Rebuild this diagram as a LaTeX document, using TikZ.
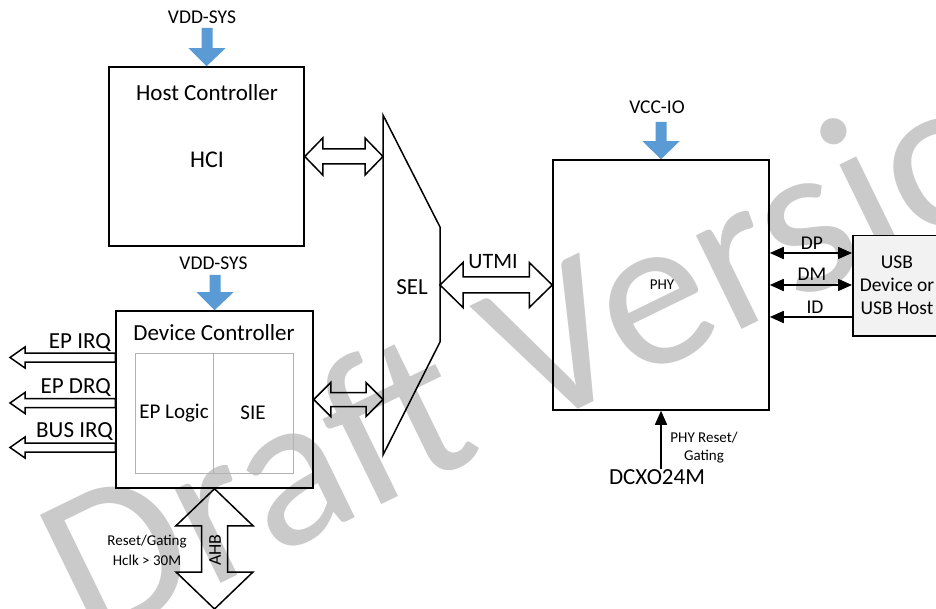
\documentclass[tikz,border=0pt]{standalone}
\usepackage{fontspec}
\setmainfont{Carlito}
\usetikzlibrary{arrows.meta,calc}
\definecolor{pwr}{RGB}{91,155,213}
\definecolor{wmgray}{RGB}{202,202,202}
\definecolor{usbfill}{RGB}{242,242,242}
\newcommand{\fsz}[1]{\fontsize{#1pt}{#1pt}\selectfont}
\begin{document}
\begin{tikzpicture}[x=1pt,y=-1pt,
  box/.style={draw, line width=1.5pt, inner sep=0pt},
  cell/.style={draw=gray!60, line width=0.8pt, inner sep=0pt, font=\fsz{21}},
  big/.style={inner sep=0pt, font=\fsz{23}},
  mid/.style={inner sep=0pt, font=\fsz{19.5}},
  small/.style={inner sep=0pt, font=\fsz{15}},
  hollow/.style={draw, line width=1.5pt, line join=miter},
  hdbl/.style n args={3}{hollow, to path={let \p1=(\tikztostart), \p2=(\tikztotarget) in
     (\x1,\y1) -- (\x1+#3,\y1+#2) -- (\x1+#3,\y1+#1) -- (\x2-#3,\y2+#1) -- (\x2-#3,\y2+#2) -- (\x2,\y2)
     -- (\x2-#3,\y2-#2) -- (\x2-#3,\y2-#1) -- (\x1+#3,\y1-#1) -- (\x1+#3,\y1-#2) -- cycle}},
  hsgl/.style n args={3}{hollow, to path={let \p1=(\tikztostart), \p2=(\tikztotarget) in
     (\x1,\y1) -- (\x1+#3,\y1+#2) -- (\x1+#3,\y1+#1) -- (\x2,\y2+#1) -- (\x2,\y2-#1)
     -- (\x1+#3,\y1-#1) -- (\x1+#3,\y1-#2) -- cycle}},
  vdbl/.style n args={3}{hollow, to path={let \p1=(\tikztostart), \p2=(\tikztotarget) in
     (\x1,\y1) -- (\x1+#2,\y1-#3) -- (\x1+#1,\y1-#3) -- (\x2+#1,\y2+#3) -- (\x2+#2,\y2+#3) -- (\x2,\y2)
     -- (\x2-#2,\y2+#3) -- (\x2-#1,\y2+#3) -- (\x1-#1,\y1-#3) -- (\x1-#2,\y1-#3) -- cycle}},
  pwrarrow/.style={fill=pwr, draw=none, to path={let \p1=(\tikztostart), \p2=(\tikztotarget) in
     (\x1-5.5pt,\y1) -- (\x1-5.5pt,\y2+18pt) -- (\x1-18.5pt,\y2+18pt) -- (\x2,\y2)
     -- (\x1+18.5pt,\y2+18pt) -- (\x1+5.5pt,\y2+18pt) -- (\x1+5.5pt,\y1) -- cycle}},
  sig/.style={line width=1.5pt},
  tipA/.style={-{Triangle[length=14pt,width=12pt]}},
  tipB/.style={{Triangle[length=14pt,width=12pt]}-{Triangle[length=14pt,width=12pt]}},
]
\fill[white] (0,0) rectangle (936,609);
\path[use as bounding box] (0,0) rectangle (936,609);
\clip (0,0) rectangle (936,609);

% watermark
\node[inner sep=0pt, anchor=base west, rotate=26, text=wmgray, font=\fsz{218}] (wmark) at (88,648) {Draft Version};

% Host controller
\node[box, minimum width=195pt, minimum height=179pt] (host) at (206.5,156.5) {};
\node[big] (hostt) at (207,93) {Host Controller};
\node[inner sep=0pt, font=\fsz{24}] (hci) at (207,160) {HCI};
\coordinate (hostpw) at (207,28);
\node[mid] (vdd1) at (202,17) {VDD-SYS};
\path[pwrarrow] (hostpw) to (host.north);

% Device controller
\node[box, minimum width=197pt, minimum height=177pt] (dev) at (214.5,399.5) {};
\node[big] (devt) at (214,333) {Device Controller};
\node[cell, minimum width=78pt, minimum height=120pt] (eplog) at (174,413) {EP Logic};
\node[cell, minimum width=80pt, minimum height=120pt] (sie) at (253,413) {SIE};
\coordinate (devpw) at (215,275);
\node[mid] (vdd2) at (213.5,263) {VDD-SYS};
\path[pwrarrow] (devpw) to (dev.north);

% EP arrows
\coordinate (irqT) at (10,357.5);
\coordinate (drqT) at (10,403);
\coordinate (busT) at (10,447.5);
\draw[hsgl={4.5pt}{10.5pt}{15pt}] (irqT) to (irqT -| dev.west);
\draw[hsgl={4.5pt}{10.5pt}{15pt}] (drqT) to (drqT -| dev.west);
\draw[hsgl={4.5pt}{10.5pt}{15pt}] (busT) to (busT -| dev.west);
\node[big, anchor=east] (irql) at (111,343) {EP IRQ};
\node[big, anchor=east] (drql) at (111,388) {EP DRQ};
\node[big, anchor=east] (busl) at (113,432) {BUS IRQ};

% AHB
\coordinate (ahbB) at (214.5,609);
\draw[vdbl={13pt}{38.5pt}{37pt}] (dev.south) to (ahbB);
\node[inner sep=0pt, font=\fsz{18}, rotate=90] (ahb) at (215,550) {AHB};
\node[small] (rg1) at (147,542) {Reset/Gating};
\node[small] (rg2) at (147,560) {Hclk > 30M};

% SEL
\coordinate (selTL) at (383,115);
\coordinate (selTR) at (440,227);
\coordinate (selBR) at (440,342);
\coordinate (selBL) at (383,455);
\draw[line width=1.5pt, line join=miter] (selTL) -- (selTR) -- (selBR) -- (selBL) -- cycle;
\node[big] (sel) at (412,287) {SEL};
\draw[hdbl={7.5pt}{18.5pt}{18pt}] (host.east) to (host.east -| selTL);
\draw[hdbl={7pt}{17pt}{17pt}] (dev.east) to (dev.east -| selTL);

% PHY
\node[box, minimum width=216pt, minimum height=250pt] (phy) at (661,285) {};
\node[small] (phyt) at (662,285) {PHY};
\coordinate (phypw) at (661,122);
\node[mid] (vcc) at (657,107) {VCC-IO};
\path[pwrarrow] (phypw) to (phy.north);
\draw[hdbl={8pt}{22.5pt}{23pt}] (phy.west -| selTR) to (phy.west);
\node[inner sep=0pt, font=\fsz{22}] (utmi) at (493,262) {UTMI};

% USB
\node[box, fill=usbfill, minimum width=110pt, minimum height=100pt, anchor=north west] (usb) at (852,235) {};
\node[mid] (usb1) at (897,262) {USB};
\node[mid] (usb2) at (897,285) {Device or};
\node[mid] (usb3) at (897,308) {USB Host};
\coordinate (dpU) at (852,253);
\coordinate (dmU) at (852,285);
\coordinate (idU) at (852,317);
\draw[sig, tipB] (dpU -| phy.east) -- (dpU);
\draw[sig, tipB] (dmU -| phy.east) -- (dmU);
\draw[sig, tipA] (idU) -- (idU -| phy.east);
\node[mid] (dpl) at (812,243) {DP};
\node[mid] (dml) at (812,274) {DM};
\node[mid] (idl) at (815,307) {ID};

% DCXO
\node[big, anchor=north] (dcxo) at (657,469) {DCXO24M};
\draw[sig, tipA] (phy.south |- dcxo.north) -- (phy.south);
\node[small] (pr1) at (704,438) {PHY Reset/};
\node[small] (pr2) at (704,457) {Gating};
\end{tikzpicture}
\end{document}
